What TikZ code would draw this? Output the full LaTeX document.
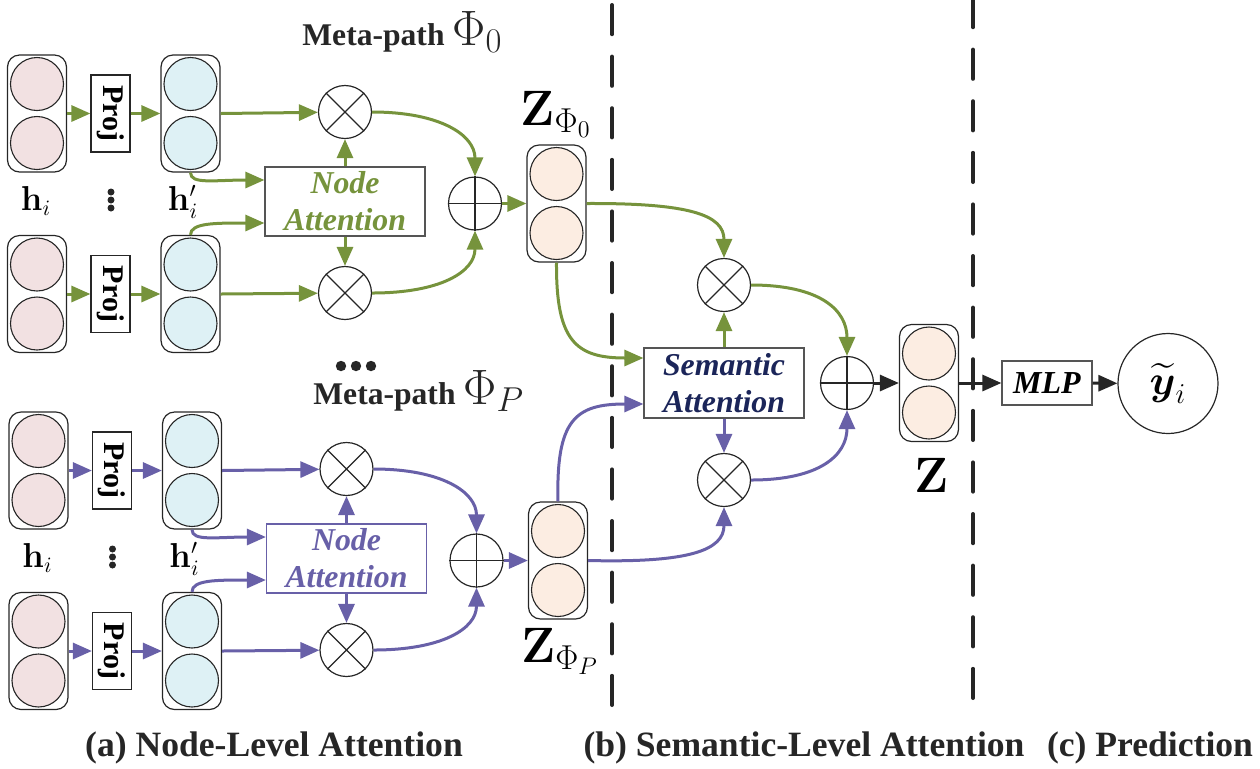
\documentclass[tikz,border=0pt]{standalone}
\usepackage{amsmath}
\usepackage[no-math]{fontspec}
\setmainfont{Liberation Serif}
\usetikzlibrary{arrows.meta,calc}
\definecolor{pgreen}{HTML}{76933C}
\definecolor{ppurple}{HTML}{6860A8}
\definecolor{pinkc}{HTML}{F2E1E2}
\definecolor{lbluec}{HTML}{DEF1F5}
\definecolor{peachc}{HTML}{FCEDE2}
\definecolor{navyc}{HTML}{1B2559}
\definecolor{darkc}{HTML}{262626}
\definecolor{boxgray}{HTML}{555555}
\tikzset{
 vbox/.style={draw=black!85,line width=0.6pt,rounded corners=6pt,minimum width=29.5pt,minimum height=58.5pt,inner sep=0pt},
 vcirc/.style={circle,draw=black!85,line width=0.55pt,minimum size=26.5pt,inner sep=0pt},
 projbox/.style={draw=black!85,line width=0.6pt,minimum width=38.5pt,minimum height=19.5pt,inner sep=0pt,rotate=-90,font=\fontsize{15pt}{16pt}\selectfont\bfseries},
 opnode/.style={circle,draw=black!85,line width=0.6pt,minimum size=26.5pt,inner sep=0pt},
 conn/.style={line width=1.5pt,-{Triangle[length=9.5pt,width=8pt]}},
 attbox/.style={line width=0.6pt,minimum width=80pt,minimum height=34.5pt,align=center,inner sep=0pt,font=\fontsize{15.9pt}{18.5pt}\selectfont\bfseries\itshape},
 divider/.style={draw=darkc,line width=2pt,line cap=round,dash pattern=on 14.6pt off 11.2pt},
 captext/.style={font=\fontsize{17.8pt}{20pt}\selectfont\bfseries,anchor=base,inner sep=0pt,text=darkc},
 mathlabel/.style={inner sep=0pt,anchor=base},
 hlabel/.style={mathlabel,font=\fontsize{16pt}{18pt}\selectfont},
 metalabel/.style={inner sep=0pt,anchor=base west,text=darkc},
}
\newcommand\vecbox[4]{%
 \node[vbox] (#1) at (#2,#3) {};
 \path (#1.center) ++(0,-29.5) node[vcirc,fill=#4] (#1a) {} ++(0,59) node[vcirc,fill=#4] (#1b) {};}
\newcommand\otimesnode[3]{%
 \node[opnode] (#1) at (#2,#3) {};
 \draw[line width=0.6pt,black!85] (#1.north west) -- (#1.south east) (#1.north east) -- (#1.south west);}
\newcommand\oplusnode[3]{%
 \node[opnode] (#1) at (#2,#3) {};
 \draw[line width=0.6pt,black!85] (#1.north) -- (#1.south) (#1.west) -- (#1.east);}
\newcommand\metagroup[4]{%
 \begin{scope}[#2]
 \vecbox{#1p1}{37}{113.5}{pinkc}
 \vecbox{#1p2}{37}{294}{pinkc}
 \vecbox{#1b1}{190.5}{113.5}{lbluec}
 \vecbox{#1b2}{190.5}{294}{lbluec}
 \node[projbox] (#1pr1) at (110.5,113.5) {Proj};
 \node[projbox] (#1pr2) at (110.5,294) {Proj};
 \otimesnode{#1ot1}{345}{112}
 \otimesnode{#1ot2}{345}{293}
 \node[attbox,draw=#4,text=#3] (#1na) at (345,201.5) {Node\\Attention};
 \oplusnode{#1op}{475}{203.5}
 \vecbox{#1z}{556.5}{203.5}{peachc}
 \node[hlabel] (#1h) at (36,210) {$\mathbf{h}_i$};
 \node[hlabel] (#1hp) at (183,210) {$\mathbf{h}'_i$};
 \fill[darkc] (111,192) circle[radius=1.75pt] (111,200) circle[radius=1.75pt] (111,208) circle[radius=1.75pt];
 \draw[conn,#3] (#1p1) -- (#1pr1);
 \draw[conn,#3] (#1pr1) -- (#1b1);
 \draw[conn,#3] (#1p2) -- (#1pr2);
 \draw[conn,#3] (#1pr2) -- (#1b2);
 \draw[conn,#3] (#1b1.east) -- (#1ot1);
 \draw[conn,#3] (#1b2.east) -- (#1ot2);
 \draw[conn,#3] (#1na) -- (#1ot1);
 \draw[conn,#3] (#1na) -- (#1ot2);
 \draw[conn,#3] (#1b1.south) .. controls +(0,12) and +(-50,0) .. ([yshift=10.75pt]#1na.west);
 \draw[conn,#3] (#1b2.north) .. controls +(0,-12) and +(-50,0) .. ([yshift=-10.75pt]#1na.west);
 \draw[conn,#3] (#1ot1.east) .. controls (440,112) and (475,135) .. (#1op.north);
 \draw[conn,#3] (#1ot2.east) .. controls (440,293) and (475,272) .. (#1op.south);
 \draw[conn,#3] (#1op) -- (#1z);
 \end{scope}}
\begin{document}
\begin{tikzpicture}[x={(0.5pt,0)},y={(0,-0.5pt)}]
\useasboundingbox (0,0) rectangle (1260,768);
% dividers
\draw[divider] (612,705) -- (612,0);
\draw[divider] (973,698) -- (973,0);
% meta-path groups
\metagroup{g}{}{pgreen}{boxgray}
\metagroup{q}{xshift=0.75pt,yshift=-178.5pt}{ppurple}{ppurple}
% labels
\node[metalabel] (mp0) at (302,45) {\fontsize{15.8pt}{18pt}\selectfont\bfseries Meta-path \fontsize{24pt}{26pt}\selectfont$\Phi_0$};
\node[metalabel] (mpP) at (313,404) {\fontsize{15.8pt}{18pt}\selectfont\bfseries Meta-path \fontsize{24pt}{26pt}\selectfont$\Phi_P$};
\fill[darkc] (341,366) circle[radius=2.6pt] (356,366) circle[radius=2.6pt] (371,366) circle[radius=2.6pt];
\node[mathlabel,font=\fontsize{23pt}{26pt}\selectfont] (lz0) at (556,125) {$\mathbf{Z}_{\Phi_0}$};
\node[mathlabel,font=\fontsize{23pt}{26pt}\selectfont] (lzP) at (560,662) {$\mathbf{Z}_{\Phi_P}$};
% semantic level
\otimesnode{sot1}{724}{285}
\otimesnode{sot2}{724}{480}
\node[attbox,draw=boxgray,text=navyc,minimum height=35pt] (sa) at (724,383) {Semantic\\Attention};
\oplusnode{sop}{847}{383}
\vecbox{zf}{929}{383}{peachc}
\node[mathlabel,font=\fontsize{25.5pt}{28pt}\selectfont] (lzf) at (932,492) {$\mathbf{Z}$};
\draw[conn,pgreen] (sa) -- (sot1);
\draw[conn,ppurple] (sa) -- (sot2);
\draw[conn,pgreen] (gz.south) .. controls (556,340) and (575,358) .. ([yshift=12.5pt]sa.west);
\draw[conn,ppurple] (qz.north) .. controls (556,420) and (575,404) .. ([yshift=-10.5pt]sa.west);
\draw[conn,pgreen] (gz.east) .. controls (690,203) and (724,215) .. (sot1.north);
\draw[conn,ppurple] (qz.east) .. controls (690,563) and (724,550) .. (sot2.south);
\draw[conn,pgreen] (sot1.east) .. controls (820,285) and (847,310) .. (sop.north);
\draw[conn,ppurple] (sot2.east) .. controls (820,480) and (847,455) .. (sop.south);
% prediction
\node[draw=boxgray,line width=0.6pt,minimum width=45pt,minimum height=22pt,inner sep=0pt,font=\fontsize{16pt}{18pt}\selectfont\bfseries\itshape] (mlp) at (1047,383) {MLP};
\node[circle,draw=black!85,line width=0.6pt,minimum size=50pt,inner sep=0pt,font=\fontsize{22pt}{24pt}\selectfont] (yout) at (1168,383.5) {$\widetilde{\boldsymbol{y}}_i$};
\draw[conn,darkc] (sop) -- (zf);
\draw[conn,darkc] (zf) -- (mlp);
\draw[conn,darkc] (mlp) -- (yout);
% captions
\node[captext] (capa) at (274,756) {(a) Node-Level Attention};
\node[captext] (capb) at (804,756) {(b) Semantic-Level Attention};
\node[captext] (capc) at (1150,756) {(c) Prediction};
\end{tikzpicture}
\end{document}
